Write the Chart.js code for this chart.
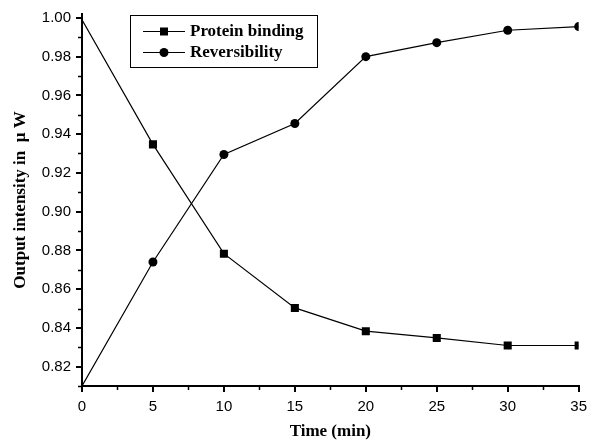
<!DOCTYPE html>
<html>
<head>
<meta charset="utf-8">
<script src="https://cdn.jsdelivr.net/npm/chart.js@4/dist/chart.umd.min.js"></script>
<style>
  html, body { margin: 0; padding: 0; background: #fff; }
  #wrap { width: 593px; height: 444px; }
</style>
</head>
<body>
<div id="wrap"><canvas id="c" width="593" height="444"></canvas></div>
<script>
const times = [0, 5, 10, 15, 20, 25, 30, 35];
const proteinBinding = [0.999, 0.9347, 0.8783, 0.8503, 0.8383, 0.8348, 0.8309, 0.8309];
const reversibility = [0.810, 0.874, 0.9295, 0.9455, 0.9800, 0.9872, 0.9936, 0.9955];
const seriesLabels = ['Protein binding', 'Reversibility'];
const yMajorTicks = [0.82, 0.84, 0.86, 0.88, 0.90, 0.92, 0.94, 0.96, 0.98, 1.00];
const yMinorTicks = [0.81, 0.83, 0.85, 0.87, 0.89, 0.91, 0.93, 0.95, 0.97, 0.99];
const xMajorTicks = [0, 5, 10, 15, 20, 25, 30, 35];
const xMinorTicks = [2.5, 7.5, 12.5, 17.5, 22.5, 27.5, 32.5];
const xTitle = 'Time (min)';
const yTitle = 'Output intensity in  \u03bc W';

const tickFont = { family: '"Liberation Sans", Arial, sans-serif', size: 15 };
const titleFont = { family: '"Liberation Serif", "Times New Roman", serif', size: 17, weight: 'bold' };

const minorTicks = {
  id: 'minorTicks',
  afterDraw(chart) {
    const ctx = chart.ctx;
    const xs = chart.scales.x, ys = chart.scales.y;
    ctx.save();
    ctx.strokeStyle = '#000';
    ctx.lineWidth = 1.5;
    const ax = chart.chartArea.left, ay = chart.chartArea.bottom;
    yMinorTicks.forEach(v => {
      const p = Math.round(ys.getPixelForValue(v)) + 0.5;
      ctx.beginPath(); ctx.moveTo(ax - 4, p); ctx.lineTo(ax, p); ctx.stroke();
    });
    xMinorTicks.forEach(v => {
      const p = Math.round(xs.getPixelForValue(v)) + 0.5;
      ctx.beginPath(); ctx.moveTo(p, ay); ctx.lineTo(p, ay + 4); ctx.stroke();
    });
    ctx.restore();
  }
};

const boxLegend = {
  id: 'boxLegend',
  afterDraw(chart) {
    const ctx = chart.ctx;
    ctx.save();
    ctx.strokeStyle = '#000';
    ctx.lineWidth = 1;
    ctx.strokeRect(130.5, 15.5, 187, 52);
    const rows = [31, 52];
    chart.data.datasets.forEach((ds, i) => {
      const y = rows[i];
      ctx.strokeStyle = '#000';
      ctx.lineWidth = 1;
      ctx.beginPath(); ctx.moveTo(143, y + 0.5); ctx.lineTo(185, y + 0.5); ctx.stroke();
      ctx.fillStyle = '#000';
      if (ds.pointStyle === 'rect') {
        ctx.fillRect(160, y - 3.5, 8, 8);
      } else {
        ctx.beginPath(); ctx.arc(164, y + 0.5, 4.5, 0, Math.PI * 2); ctx.fill();
      }
      ctx.font = 'bold 17px "Liberation Serif", "Times New Roman", serif';
      ctx.textBaseline = 'middle';
      ctx.textAlign = 'left';
      ctx.fillText(ds.label, 190, y + 1);
    });
    ctx.restore();
  }
};

new Chart(document.getElementById('c'), {
  type: 'line',
  data: {
    datasets: [
      {
        label: seriesLabels[0],
        data: times.map((t, i) => ({ x: t, y: proteinBinding[i] })),
        borderColor: '#000',
        backgroundColor: '#000',
        borderWidth: 1.2,
        pointStyle: 'rect',
        pointRadius: c => (c.parsed && c.parsed.x === 0 ? 0 : 5.7),
        pointBorderWidth: 0,
        tension: 0
      },
      {
        label: seriesLabels[1],
        data: times.map((t, i) => ({ x: t, y: reversibility[i] })),
        borderColor: '#000',
        backgroundColor: '#000',
        borderWidth: 1.2,
        pointStyle: 'circle',
        pointRadius: c => (c.parsed && c.parsed.x === 0 ? 0 : 4.5),
        pointBorderWidth: 0,
        tension: 0
      }
    ]
  },
  options: {
    responsive: false,
    animation: false,
    events: [],
    layout: { padding: { top: 14, right: 13, left: 0, bottom: 0 } },
    plugins: { legend: { display: false }, tooltip: { enabled: false } },
    scales: {
      x: {
        type: 'linear',
        min: 0, max: 35,
        afterFit(s) { s.height = 58; },
        afterBuildTicks(s) { s.ticks = xMajorTicks.map(v => ({ value: v })); },
        ticks: { color: '#000', font: tickFont, padding: 6, maxRotation: 0, callback: v => String(v) },
        grid: { drawOnChartArea: false, drawTicks: true, tickLength: 6, color: '#000', lineWidth: 2 },
        border: { display: true, color: '#000', width: 2 },
        title: { display: true, text: xTitle, color: '#000', font: titleFont, padding: { top: 0, bottom: 2 } }
      },
      y: {
        type: 'linear',
        min: 0.81, max: 1.002,
        afterFit(s) { s.width = 82; },
        afterBuildTicks(s) { s.ticks = yMajorTicks.map(v => ({ value: v })); },
        ticks: { color: '#000', font: tickFont, padding: 5, callback: v => Number(v).toFixed(2) },
        grid: { drawOnChartArea: false, drawTicks: true, tickLength: 6, color: '#000', lineWidth: 2 },
        border: { display: true, color: '#000', width: 2 },
        title: { display: true, text: yTitle, color: '#000', font: titleFont, padding: { top: 10, bottom: 0 } }
      }
    }
  },
  plugins: [minorTicks, boxLegend]
});
</script>
</body>
</html>
